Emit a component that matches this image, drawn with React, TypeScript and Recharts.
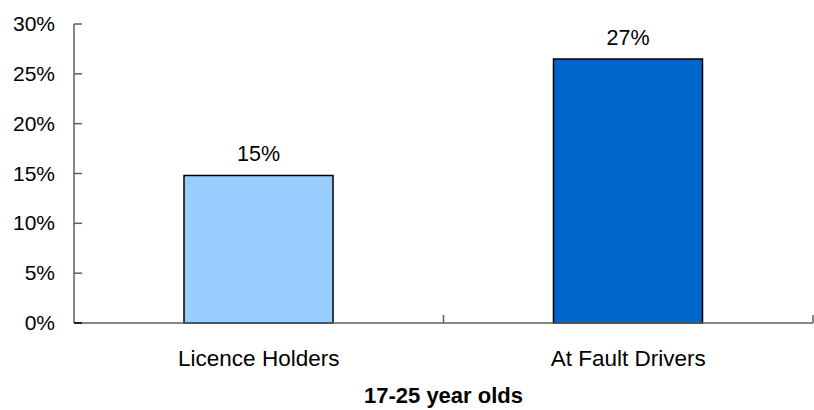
import { Bar, BarChart, Cell, LabelList, XAxis, YAxis } from "recharts";

const FONT = "'Liberation Sans', Arial, sans-serif";
const INK = "#000000";
const AXIS = "#5f5f5f";

const categories = ["Licence Holders", "At Fault Drivers"];
const shares = [14.8, 26.5];
const barColors = ["#99ccff", "#0066cc"];
const yTicks = [0, 5, 10, 15, 20, 25, 30];
const groupLabel = "17-25 year olds";

const data = categories.map((name, i) => ({ name, share: shares[i] }));

const TICK_LEN = 8;
const Y_GAP = 19;
const X_GAP = 43;

const pct = (v: number) => `${Math.round(v)}%`;

// left axis: label outside, short tick mark pointing into the plot
function YTick(props: any) {
  const { x, y, payload } = props;
  const axisX = x + Y_GAP;
  return (
    <g>
      <line
        x1={axisX}
        x2={axisX + TICK_LEN}
        y1={y}
        y2={y}
        stroke={payload.value === 0 ? INK : AXIS}
        strokeWidth={1.5}
      />
      <text x={x} y={y} dy={7} textAnchor="end" fontFamily={FONT} fontSize={21} fill={INK}>
        {pct(payload.value)}
      </text>
    </g>
  );
}

// bottom axis: centred label, tick marks on category boundaries pointing up
function XTick(props: any) {
  const { x, y, payload, width, visibleTicksCount } = props;
  const band = width / visibleTicksCount;
  const edge = x + band / 2;
  return (
    <g>
      <line x1={edge} x2={edge} y1={y} y2={y - TICK_LEN} stroke={AXIS} strokeWidth={1.5} />
      <text x={x} y={y + X_GAP} textAnchor="middle" fontFamily={FONT} fontSize={22.5} fill={INK}>
        {payload.value}
      </text>
    </g>
  );
}

export default function App() {
  return (
    <div style={{ position: "absolute", left: 0, top: 0, background: "#fff" }}>
      <BarChart
        width={814}
        height={410}
        data={data}
        margin={{ top: 24, right: 1, left: 0, bottom: 0 }}
        barSize={149}
      >
        <XAxis
          dataKey="name"
          height={87}
          axisLine={{ stroke: AXIS, strokeWidth: 1.5 }}
          tickLine={false}
          tickSize={0}
          tickMargin={0}
          tick={<XTick />}
          interval={0}
          label={{
            value: groupLabel,
            position: "insideBottom",
            offset: 7,
            fontFamily: FONT,
            fontSize: 22,
            fontWeight: "bold",
            fill: INK,
          }}
        />
        <YAxis
          width={74}
          domain={[0, 30]}
          ticks={yTicks}
          interval={0}
          axisLine={{ stroke: AXIS, strokeWidth: 1.5 }}
          tickLine={false}
          tickSize={0}
          tickMargin={Y_GAP}
          tick={<YTick />}
        />
        <Bar dataKey="share" stroke="#000" strokeWidth={1.5} isAnimationActive={false}>
          {data.map((d, i) => (
            <Cell key={d.name} fill={barColors[i]} />
          ))}
          <LabelList
            dataKey="share"
            position="top"
            offset={14}
            formatter={(v: any) => pct(Number(v))}
            style={{ fontFamily: FONT, fontSize: 21.5, fill: INK }}
          />
        </Bar>
      </BarChart>
    </div>
  );
}
